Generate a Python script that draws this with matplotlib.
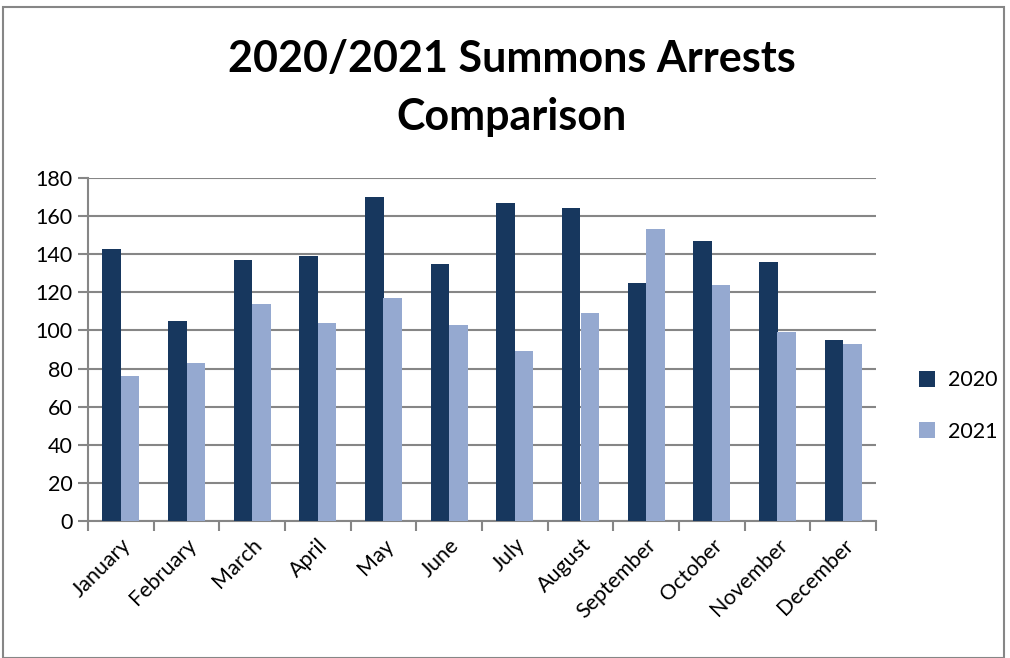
import numpy as np
import matplotlib.pyplot as plt
from matplotlib.patches import Rectangle

months = ['January', 'February', 'March', 'April', 'May', 'June', 'July',
          'August', 'September', 'October', 'November', 'December']
arrests_2020 = [143, 105, 137, 139, 170, 135, 167, 164, 125, 147, 136, 95]
arrests_2021 = [76, 83, 114, 104, 117, 103, 89, 109, 153, 124, 99, 93]
y_ticks = [0, 20, 40, 60, 80, 100, 120, 140, 160, 180]

dark = '#17375E'
light = '#95A9D0'
grid_gray = '#868686'

plt.rcParams['font.family'] = ['Lato', 'DejaVu Sans']

fig = plt.figure(figsize=(10.10, 6.58), dpi=100)
ax = fig.add_axes([88 / 1010, 1 - 521 / 658, 788 / 1010, 343 / 658])

x = np.arange(len(months))
w = 0.284
ax.bar(x - w / 2, arrests_2020, width=w, color=dark, label='2020', zorder=3)
ax.bar(x + w / 2, arrests_2021, width=w, color=light, label='2021', zorder=3)

ax.set_xlim(-0.5, len(months) - 0.5)
ax.set_ylim(0, 180)
ax.set_yticks(y_ticks)
ax.tick_params(axis='y', labelsize=15.5, length=7, color=grid_gray, width=1.5, pad=4)
ax.yaxis.grid(True, color=grid_gray, linewidth=1.5, zorder=0)

# category labels centered, tick marks on boundaries
ax.set_xticks(x)
ax.set_xticklabels(months, rotation=45, ha='right', rotation_mode='anchor', fontsize=15.5)
ax.tick_params(axis='x', length=0, pad=10)
ax.set_xticks(np.arange(-0.5, len(months)), minor=True)
ax.tick_params(axis='x', which='minor', length=7, color=grid_gray, width=1.5)

for s in ['top', 'right']:
    ax.spines[s].set_visible(False)
for s in ['left', 'bottom']:
    ax.spines[s].set_color(grid_gray)
    ax.spines[s].set_linewidth(1.5)
ax.set_axisbelow(True)

fig.text(512 / 1010, 1 - 88 / 658, '2020/2021 Summons Arrests\nComparison',
         ha='center', va='center', fontsize=31, fontweight='bold', linespacing=1.55)

ax.legend(loc='center left', bbox_to_anchor=(1.03, 0.335), frameon=False,
          fontsize=15.5, handlelength=0.75, handleheight=0.75, labelspacing=1.45,
          handletextpad=0.6)

fig.patches.append(Rectangle((3 / 1010, 0), 1001 / 1010, 1 - 7 / 658,
                             transform=fig.transFigure, fill=False,
                             edgecolor=grid_gray, linewidth=1.5))

fig.savefig('out.png', dpi=100)
